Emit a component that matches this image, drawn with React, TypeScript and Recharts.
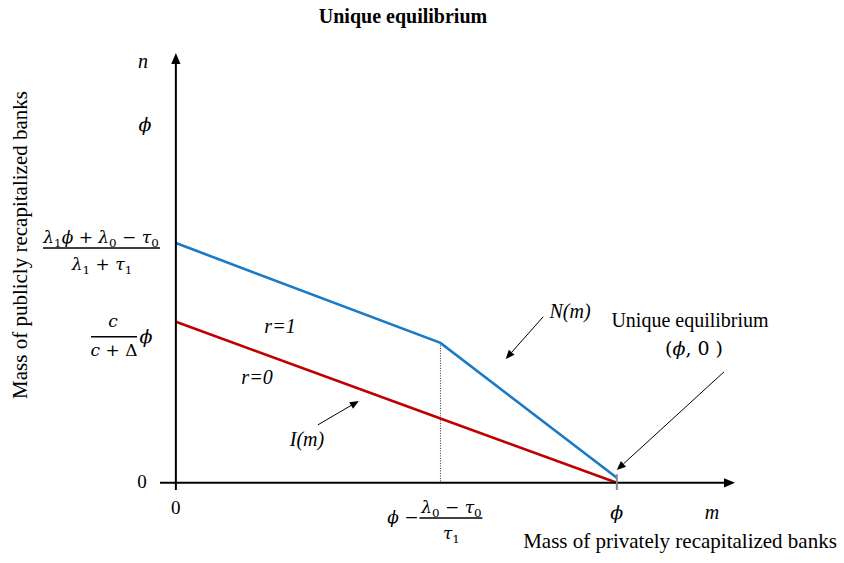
import React from "react";
import { ComposedChart, Line, XAxis, YAxis, ReferenceLine } from "recharts";

// m = mass of privately recapitalized banks (phi = 1), n = publicly recapitalized
const mValues = [0, 0.6, 1];
const nCurve = [0.67, 0.391, 0.014]; // N(m), r = 1
const iCurve = [0.45, 0.18, 0]; // I(m), r = 0
const xTicks = [0, 0.6, 1];
const yTicks = [0, 0.45, 0.67, 1];

const data = mValues.map((m, i) => ({ m, N: nCurve[i], I: iCurve[i] }));

const SERIF = "'Liberation Serif', 'Times New Roman', serif";
const MATH = "'DejaVu Serif', 'Liberation Serif', serif";
const BLUE = "#1a7ac6";
const RED = "#c00000";

// tiny math renderer: "_x" makes x a subscript, letters are italic
function MathText({ x, y, expr, size = 17, anchor = "middle" }: any) {
  const nodes: any[] = [];
  let shift = 0;
  let buf = "";
  let bufItalic = false;
  let key = 0;
  const flush = () => {
    if (!buf) return;
    nodes.push(
      <tspan key={key++} dy={-shift} fontStyle={bufItalic ? "italic" : "normal"}>
        {buf}
      </tspan>
    );
    shift = 0;
    buf = "";
  };
  for (let k = 0; k < expr.length; k++) {
    const ch = expr[k];
    if (ch === "_") {
      flush();
      const s = expr[k + 1];
      k++;
      nodes.push(
        <tspan key={key++} dy={size * 0.25 - shift} fontSize={size * 0.7} fontStyle="normal">
          {s}
        </tspan>
      );
      shift = size * 0.25;
      continue;
    }
    const italic = /[a-zA-Zλτϕ]/.test(ch);
    if (buf && italic !== bufItalic) flush();
    bufItalic = italic;
    buf += ch;
  }
  flush();
  return (
    <text x={x} y={y} fontSize={size} fontFamily={MATH} textAnchor={anchor} fill="#000" style={{ whiteSpace: "pre" }}>
      {nodes}
    </text>
  );
}

const arrowShape = (color: string, width: number, head: number) => (p: any) => {
  const { x1, y1, x2, y2 } = p;
  const ang = Math.atan2(y2 - y1, x2 - x1);
  const w = head * 0.42;
  const bx = x2 - head * Math.cos(ang);
  const by = y2 - head * Math.sin(ang);
  const pts = `${x2},${y2} ${bx - w * Math.sin(ang)},${by + w * Math.cos(ang)} ${bx + w * Math.sin(ang)},${by - w * Math.cos(ang)}`;
  return (
    <g>
      <line x1={x1} y1={y1} x2={bx} y2={by} stroke={color} strokeWidth={width} />
      <polygon points={pts} fill={color} />
    </g>
  );
};

function YTick(props: any) {
  const { y, payload } = props;
  const v = payload.value;
  if (v === 0) return <text x={142} y={y + 5} fontSize={19} fontFamily={SERIF} textAnchor="middle">0</text>;
  if (v === 1) return <MathText x={145} y={y + 6} expr="ϕ" size={19} />;
  if (v === 0.67)
    return (
      <g>
        <MathText x={101} y={y} expr="λ_1ϕ + λ_0 − τ_0" />
        <line x1={43} x2={160} y1={y + 5} y2={y + 5} stroke="#000" strokeWidth={1.4} />
        <MathText x={102} y={y + 27} expr="λ_1 + τ_1" />
      </g>
    );
  return (
    <g>
      <MathText x={113} y={y + 5} expr="c" />
      <line x1={91} x2={137} y1={y + 15} y2={y + 15} stroke="#000" strokeWidth={1.4} />
      <MathText x={114} y={y + 34} expr="c + Δ" />
      <MathText x={146} y={y + 21} expr="ϕ" size={19} />
    </g>
  );
}

function XTick(props: any) {
  const { x, payload } = props;
  const v = payload.value;
  if (v === 0) return <text x={x} y={514} fontSize={19} fontFamily={SERIF} textAnchor="middle">0</text>;
  if (v === 1) return <MathText x={x} y={519} expr="ϕ" size={19} />;
  return (
    <g>
      <MathText x={x - 22} y={523} expr="ϕ −" anchor="end" />
      <MathText x={x + 11} y={513} expr="λ_0 − τ_0" />
      <line x1={x - 21} x2={x + 42} y1={518} y2={518} stroke="#000" strokeWidth={1.4} />
      <MathText x={x + 11} y={539} expr="τ_1" />
    </g>
  );
}

export default function App() {
  return (
    <div style={{ position: "absolute", left: 0, top: 0, width: 844, height: 563, background: "#fff" }}>
      <ComposedChart
        width={844}
        height={563}
        data={data}
        margin={{ top: 53, right: 109, bottom: 13, left: 30 }}
      >
        <XAxis
          dataKey="m"
          type="number"
          domain={[-0.036, 1.268]}
          ticks={xTicks}
          axisLine={false}
          tickLine={false}
          height={60}
          tick={<XTick />}
          interval={0}
        />
        <YAxis
          type="number"
          domain={[-0.02, 1.201]}
          ticks={yTicks}
          axisLine={false}
          tickLine={false}
          width={130}
          tick={<YTick />}
          interval={0}
        />
        <ReferenceLine
          segment={[{ x: 0.6, y: 0.391 }, { x: 0.6, y: 0 }]}
          stroke="#333"
          strokeWidth={1}
          strokeDasharray="1 1.5"
          ifOverflow="visible"
        />
        <Line dataKey="N" type="linear" stroke={BLUE} strokeWidth={2.6} dot={false} isAnimationActive={false} />
        <Line dataKey="I" type="linear" stroke={RED} strokeWidth={2.6} dot={false} isAnimationActive={false} />
        <ReferenceLine
          segment={[{ x: -0.036, y: 0 }, { x: 1.268, y: 0 }]}
          ifOverflow="visible"
          shape={arrowShape("#000", 2, 11)}
        />
        <ReferenceLine
          segment={[{ x: 0, y: -0.02 }, { x: 0, y: 1.201 }]}
          ifOverflow="visible"
          shape={arrowShape("#000", 2, 11)}
        />
        <ReferenceLine
          segment={[{ x: 1, y: 0.024 }, { x: 1, y: -0.02 }]}
          stroke="#888"
          strokeWidth={2}
          ifOverflow="visible"
        />
        {/* annotation arrows */}
        <ReferenceLine
          segment={[{ x: 0.833, y: 0.464 }, { x: 0.748, y: 0.346 }]}
          ifOverflow="visible"
          shape={arrowShape("#000", 1, 9)}
        />
        <ReferenceLine
          segment={[{ x: 0.322, y: 0.162 }, { x: 0.415, y: 0.229 }]}
          ifOverflow="visible"
          shape={arrowShape("#000", 1, 9)}
        />
        <ReferenceLine
          segment={[{ x: 1.243, y: 0.31 }, { x: 1.0, y: 0.036 }]}
          ifOverflow="visible"
          shape={arrowShape("#000", 1, 9)}
        />
      </ComposedChart>
      <svg width={844} height={563} style={{ position: "absolute", left: 0, top: 0, pointerEvents: "none" }}>
        <text x={403} y={23} fontSize={20} fontWeight="bold" fontFamily={SERIF} textAnchor="middle">
          Unique equilibrium
        </text>
        <text x={143} y={68} fontSize={20} fontStyle="italic" fontFamily={SERIF} textAnchor="middle">n</text>
        <text x={712} y={519} fontSize={20} fontStyle="italic" fontFamily={SERIF} textAnchor="middle">m</text>
        <text x={680} y={548} fontSize={21} fontFamily={SERIF} textAnchor="middle">
          Mass of privately recapitalized banks
        </text>
        <text
          x={0}
          y={0}
          fontSize={21}
          fontFamily={SERIF}
          textAnchor="middle"
          transform="translate(27, 245) rotate(-90)"
        >
          Mass of publicly recapitalized banks
        </text>
        <text x={280} y={333} fontSize={20} fontStyle="italic" fontFamily={SERIF} textAnchor="middle">r=1</text>
        <text x={257} y={384} fontSize={20} fontStyle="italic" fontFamily={SERIF} textAnchor="middle">r=0</text>
        <text x={570} y={318} fontSize={20} fontStyle="italic" fontFamily={SERIF} textAnchor="middle">N(m)</text>
        <text x={307} y={446} fontSize={20} fontStyle="italic" fontFamily={SERIF} textAnchor="middle">I(m)</text>
        <text x={690} y={327} fontSize={20} fontFamily={SERIF} textAnchor="middle">Unique equilibrium</text>
        <MathText x={694} y={355} expr="(ϕ, 0 )" size={19} />
      </svg>
    </div>
  );
}
